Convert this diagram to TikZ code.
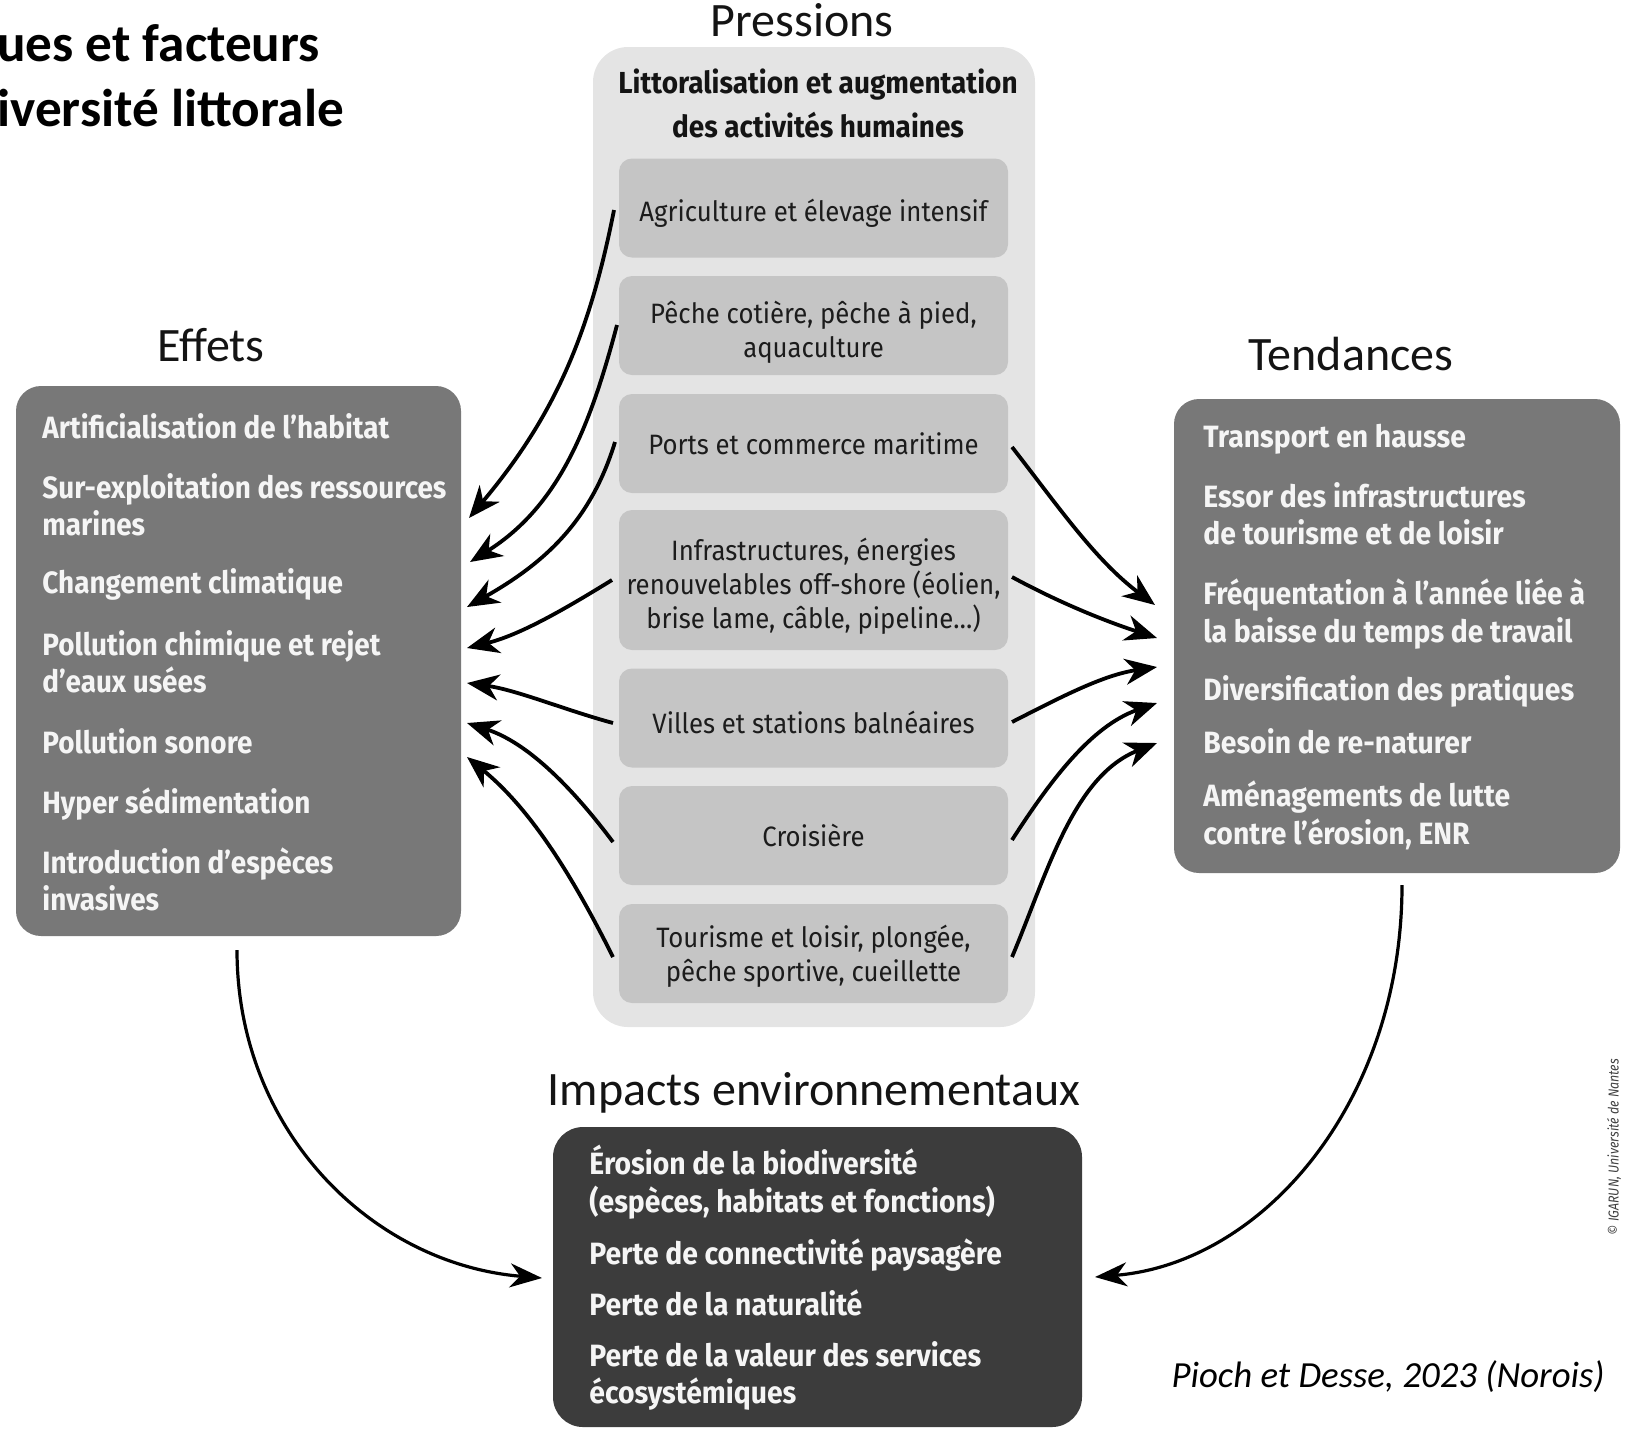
\documentclass[tikz,border=0pt]{standalone}
\usepackage{fontspec}
\setmainfont{Carlito}
\newfontfamily\dinf[FakeStretch=0.86]{Fira Sans}
\newfontfamily\dinm[FakeStretch=0.92]{Fira Sans}
\newfontfamily\dinb[FakeStretch=0.905]{Fira Sans}
\usetikzlibrary{arrows.meta}
\definecolor{outerg}{HTML}{E4E4E4}
\definecolor{innerg}{HTML}{C5C5C5}
\definecolor{midg}{HTML}{787878}
\definecolor{darkg}{HTML}{3C3C3C}
\definecolor{inktxt}{HTML}{1C1C1C}
\begin{document}
\begin{tikzpicture}[x=0.5pt,y=-0.5pt,
  outerbox/.style={fill=outerg, rounded corners=17.5pt, inner sep=0, minimum width=221pt, minimum height=490pt},
  ibox/.style={fill=innerg, rounded corners=6.5pt, inner sep=0, minimum width=194.5pt, minimum height=49.5pt},
  itxt/.style={align=center, text=inktxt, inner sep=0, font=\dinm\fontsize{14pt}{17pt}\selectfont},
  bigbox/.style={rounded corners=12.5pt, inner sep=0},
  efftxt/.style={font=\dinb\bfseries\fontsize{15.4pt}{18pt}\selectfont, text=white!96!black, anchor=base west, inner sep=0},
  imptxt/.style={font=\dinm\bfseries\fontsize{15.4pt}{18pt}\selectfont, text=white!96!black, anchor=base west, inner sep=0},
  headtxt/.style={font=\fontsize{24pt}{28pt}\selectfont, text=black!92, anchor=base, inner sep=0},
  prhead/.style={font=\dinm\bfseries\fontsize{15.2pt}{18pt}\selectfont, text=black!92, anchor=base, inner sep=0},
  arr/.style={-{Stealth[length=16pt,width=13pt,inset=5pt]}, line width=1.9pt, black},
  barr/.style={-{Stealth[length=16pt,width=12pt,inset=5pt]}, line width=1.6pt, black}
]
\useasboundingbox (0,0) rectangle (1626,1432);

% title (cut at left edge)
\node[font=\bfseries\fontsize{26.6pt}{30pt}\selectfont, anchor=base west, inner sep=0] (title1) at (-3,61) {ues et facteurs};
\node[font=\bfseries\fontsize{26.6pt}{30pt}\selectfont, anchor=base west, inner sep=0] (title2) at (-3,126) {iversité littorale};

% headings
\node[headtxt] (hpress) at (802,36) {Pressions};
\node[headtxt] (heff) at (211,361) {Effets};
\node[headtxt] (htend) at (1351,370) {Tendances};
\node[headtxt] (himp) at (814,1105) {Impacts environnementaux};

% Pressions column
\node[outerbox] (press) at (814,537) {};
\node[prhead] (ph1) at (818,93) {Littoralisation et augmentation};
\node[prhead] (ph2) at (818,137) {des activités humaines};
\node[ibox] (p1) at (813.5,208) {};
\node[ibox] (p2) at (813.5,325.5) {};
\node[ibox] (p3) at (813.5,443.5) {};
\node[ibox, minimum height=70pt] (p4) at (813.5,580) {};
\node[ibox] (p5) at (813.5,718) {};
\node[ibox] (p6) at (813.5,835.5) {};
\node[ibox] (p7) at (813.5,953.5) {};
\node[itxt, yshift=-2.5pt] (t1) at (p1) {Agriculture et élevage intensif};
\node[itxt, yshift=-3.5pt] (t2) at (p2) {Pêche cotière, pêche à pied,\\aquaculture};
\node[itxt, yshift=0pt] (t3) at (p3) {Ports et commerce maritime};
\node[itxt, yshift=-3pt] (t4) at (p4) {Infrastructures, énergies\\renouvelables off-shore (éolien,\\brise lame, câble, pipeline…)};
\node[itxt, yshift=-2pt] (t5) at (p5) {Villes et stations balnéaires};
\node[itxt, yshift=0pt] (t6) at (p6) {Croisière};
\node[itxt, yshift=-1.5pt] (t7) at (p7) {Tourisme et loisir, plongée,\\pêche sportive, cueillette};

% Effets box
\node[bigbox, fill=midg, minimum width=222.5pt, minimum height=275pt] (effets) at (238.5,661) {};
\foreach \yy/\tt [count=\i] in {438/{Artificialisation de l’habitat}, 498/{Sur-exploitation des ressources}, 535/{marines},
  593/{Changement climatique}, 655/{Pollution chimique et rejet}, 692/{d’eaux usées}, 753/{Pollution sonore},
  813/{Hyper sédimentation}, 873/{Introduction d’espèces}, 910/{invasives}}
  \node[efftxt] (eff\i) at (42,\yy) {\tt};

% Tendances box
\node[bigbox, fill=midg, minimum width=223pt, minimum height=237pt] (tend) at (1397,636) {};
\foreach \yy/\tt [count=\i] in {447/{Transport en hausse}, 507/{Essor des infrastructures}, 544/{de tourisme et de loisir},
  604/{Fréquentation à l’année liée à}, 642/{la baisse du temps de travail}, 700/{Diversification des pratiques},
  753/{Besoin de re-naturer}, 806/{Aménagements de lutte}, 844/{contre l’érosion, ENR}}
  \node[imptxt] (ten\i) at (1203,\yy) {\tt};

% Impacts box
\node[bigbox, fill=darkg, rounded corners=15pt, minimum width=264.5pt, minimum height=150pt] (imp) at (817.5,1277) {};
\foreach \yy/\tt [count=\i] in {1174/{Érosion de la biodiversité}, 1212/{(espèces, habitats et fonctions)},
  1264/{Perte de connectivité paysagère}, 1315/{Perte de la naturalité}, 1366/{Perte de la valeur des services},
  1403/{écosystémiques}}
  \node[imptxt] (imp\i) at (589,\yy) {\tt};

% citation and credit
\node[font=\itshape\fontsize{18.4pt}{22pt}\selectfont, anchor=base east, inner sep=0] (cite) at (1605,1387) {Pioch et Desse, 2023 (Norois)};
\node[rotate=90, font=\dinf\itshape\fontsize{7.2pt}{8pt}\selectfont, text=black!75, inner sep=0] (credit) at (1614,1147) {© IGARUN, Université de Nantes};

% arrow end points
\coordinate (sL1) at (614,210); \coordinate (eL1) at (469,518);
\coordinate (sL2) at (617,325); \coordinate (eL2) at (470,562);
\coordinate (sL3) at (615,442); \coordinate (eL3) at (467,607);
\coordinate (sL4) at (612,580); \coordinate (eL4) at (467,648);
\coordinate (sL5) at (613,723); \coordinate (eL5) at (467,683);
\coordinate (sL6) at (613,842); \coordinate (eL6) at (467,723);
\coordinate (sL7) at (613,957); \coordinate (eL7) at (467,757);
\coordinate (sR1) at (1012,447); \coordinate (eR1) at (1155,605);
\coordinate (sR2) at (1012,577); \coordinate (eR2) at (1157,638);
\coordinate (sR3) at (1012,722); \coordinate (eR3) at (1157,667);
\coordinate (sR4) at (1012,840); \coordinate (eR4) at (1157,703);
\coordinate (sR5) at (1012,957); \coordinate (eR5) at (1157,743);
\coordinate (sB1) at (237,950); \coordinate (eB1) at (542,1278);
\coordinate (sB2) at (1402,885); \coordinate (eB2) at (1095,1277);

% pressions -> effets
\draw[arr] (sL1) .. controls (589,337) and (553,418) .. (eL1);
\draw[arr] (sL2) .. controls (590,427) and (559,506) .. (eL2);
\draw[arr] (sL3) .. controls (590,524) and (541,565) .. (eL3);
\draw[arr] (sL4) .. controls (565,609) and (520,635) .. (eL4);
\draw[arr] (sL5) .. controls (565,710) and (517,690) .. (eL5);
\draw[arr] (sL6) .. controls (574,790) and (529,743) .. (eL6);
\draw[arr] (sL7) .. controls (575,881) and (533,811) .. (eL7);
% pressions -> tendances
\draw[arr] (sR1) .. controls (1058,506) and (1095,560) .. (eR1);
\draw[arr] (sR2) .. controls (1060,603) and (1105,621) .. (eR2);
\draw[arr] (sR3) .. controls (1061,697) and (1103,675) .. (eR3);
\draw[arr] (sR4) .. controls (1050,781) and (1091,726) .. (eR4);
\draw[arr] (sR5) .. controls (1047,874) and (1073,776) .. (eR5);
% to impacts
\draw[barr] (sB1) .. controls (237,1131) and (372,1264) .. (eB1);
\draw[barr] (sB2) .. controls (1402,1101) and (1264,1263) .. (eB2);
\end{tikzpicture}
\end{document}
